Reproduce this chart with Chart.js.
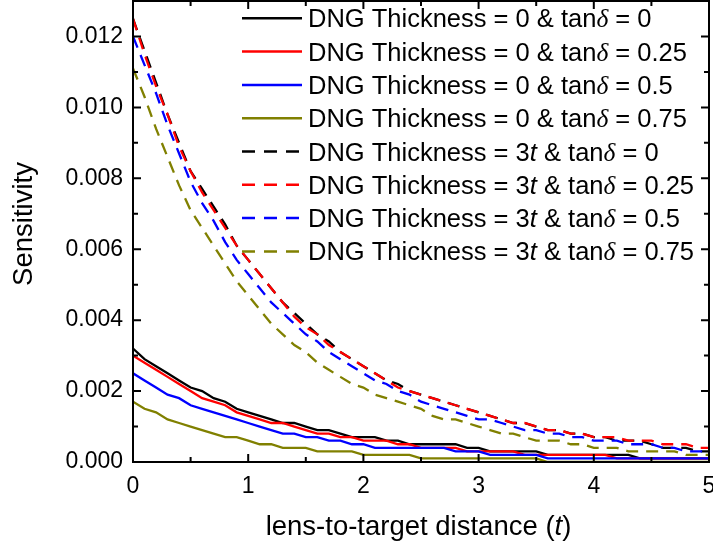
<!DOCTYPE html>
<html>
<head>
<meta charset="utf-8">
<script src="https://cdn.jsdelivr.net/npm/chart.js@4.4.1/dist/chart.umd.min.js"></script>
<style>
html,body{margin:0;padding:0;background:#fff;}
#wrap{width:713px;height:550px;position:relative;}
</style>
</head>
<body>
<div id="wrap"><canvas id="c" width="713" height="550"></canvas></div>
<script>
// lens-to-target distance (t)
const distance = [0.0,0.1,0.2,0.3,0.4,0.5,0.6,0.7,0.8,0.9,
  1.0,1.1,1.2,1.3,1.4,1.5,1.6,1.7,1.8,1.9,
  2.0,2.1,2.2,2.3,2.4,2.5,2.6,2.7,2.8,2.9,
  3.0,3.1,3.2,3.3,3.4,3.5,3.6,3.7,3.8,3.9,
  4.0,4.1,4.2,4.3,4.4,4.5,4.6,4.7,4.8,4.9,5.0];

// DNG thickness = 0
const thick0_tan0 = [0.0032,0.0029,0.0027,0.0025,0.0023,0.0021,0.0020,0.0018,0.0017,0.0015,
  0.0014,0.0013,0.0012,0.0011,0.0011,0.0010,0.0009,0.0009,0.0008,0.0007,
  0.0007,0.0007,0.0006,0.0006,0.0005,0.0005,0.0005,0.0005,0.0005,0.0004,
  0.0004,0.0003,0.0003,0.0003,0.0003,0.0003,0.0002,0.0002,0.0002,0.0002,
  0.0002,0.0002,0.0002,0.0002,0.0001,0.0001,0.0001,0.0001,0.0001,0.0001,0.0001];
const thick0_tan025 = [0.0030,0.0028,0.0026,0.0024,0.0022,0.0020,0.0018,0.0017,0.0016,0.0014,
  0.0013,0.0012,0.0011,0.0011,0.0010,0.0009,0.0008,0.0008,0.0007,0.0007,
  0.0006,0.0006,0.0006,0.0005,0.0005,0.0004,0.0004,0.0004,0.0004,0.0003,
  0.0003,0.0003,0.0003,0.0003,0.0002,0.0002,0.0002,0.0002,0.0002,0.0002,
  0.0002,0.0002,0.0001,0.0001,0.0001,0.0001,0.0001,0.0001,0.0001,0.0001,0.0001];
const thick0_tan05 = [0.0025,0.0023,0.0021,0.0019,0.0018,0.0016,0.0015,0.0014,0.0013,0.0012,
  0.0011,0.0010,0.0009,0.0008,0.0008,0.0007,0.0007,0.0006,0.0006,0.0005,
  0.0005,0.0004,0.0004,0.0004,0.0004,0.0004,0.0004,0.0004,0.0003,0.0003,
  0.0003,0.0002,0.0002,0.0002,0.0002,0.0002,0.0001,0.0001,0.0001,0.0001,
  0.0001,0.0001,0.0001,0.0001,0.0001,0.0001,0.0001,0.0001,0.0001,0.0001,0.0001];
const thick0_tan075 = [0.0017,0.0015,0.0014,0.0012,0.0011,0.0010,0.0009,0.0008,0.0007,0.0007,
  0.0006,0.0005,0.0005,0.0004,0.0004,0.0004,0.0003,0.0003,0.0003,0.0003,
  0.0002,0.0002,0.0002,0.0002,0.0002,0.0001,0.0001,0.0001,0.0001,0.0001,
  0.0001,0.0001,0.0001,0.0001,0.0001,0.0001,0.0000,0.0000,0.0000,0.0000,
  0.0000,0.0000,0.0000,0.0000,0.0000,0.0000,0.0000,0.0000,0.0000,0.0000,0.0000];

// DNG thickness = 3t
const thick3_tan0 = [0.0125,0.0116,0.0107,0.0098,0.0090,0.0082,0.0077,0.0072,0.0067,0.0061,
  0.0057,0.0053,0.0049,0.0045,0.0042,0.0039,0.0036,0.0034,0.0031,0.0029,
  0.0027,0.0025,0.0023,0.0022,0.0020,0.0019,0.0018,0.0017,0.0016,0.0015,
  0.0014,0.0013,0.0012,0.0011,0.0011,0.0010,0.0009,0.0009,0.0008,0.0008,
  0.0007,0.0007,0.0006,0.0006,0.0006,0.0005,0.0004,0.0004,0.0004,0.0003,0.0003];
const thick3_tan025 = [0.0125,0.0115,0.0106,0.0098,0.0089,0.0082,0.0076,0.0071,0.0066,0.0061,
  0.0057,0.0053,0.0049,0.0045,0.0041,0.0038,0.0036,0.0033,0.0031,0.0029,
  0.0027,0.0025,0.0023,0.0021,0.0020,0.0019,0.0018,0.0017,0.0016,0.0015,
  0.0014,0.0013,0.0012,0.0011,0.0011,0.0010,0.0009,0.0009,0.0008,0.0008,
  0.0007,0.0007,0.0007,0.0006,0.0006,0.0006,0.0005,0.0005,0.0005,0.0004,0.0004];
const thick3_tan05 = [0.0120,0.0112,0.0104,0.0095,0.0087,0.0079,0.0073,0.0068,0.0062,0.0057,
  0.0053,0.0049,0.0045,0.0042,0.0039,0.0036,0.0034,0.0031,0.0029,0.0027,
  0.0025,0.0023,0.0022,0.0020,0.0019,0.0017,0.0016,0.0015,0.0014,0.0013,
  0.0012,0.0012,0.0011,0.0010,0.0009,0.0009,0.0008,0.0008,0.0007,0.0007,
  0.0006,0.0006,0.0006,0.0005,0.0005,0.0005,0.0004,0.0004,0.0003,0.0003,0.0003];
const thick3_tan075 = [0.0111,0.0103,0.0094,0.0086,0.0078,0.0071,0.0066,0.0061,0.0056,0.0051,
  0.0047,0.0043,0.0039,0.0036,0.0033,0.0031,0.0028,0.0026,0.0024,0.0022,
  0.0021,0.0019,0.0018,0.0017,0.0016,0.0015,0.0013,0.0012,0.0012,0.0011,
  0.0010,0.0009,0.0008,0.0008,0.0007,0.0006,0.0006,0.0006,0.0005,0.0005,
  0.0004,0.0004,0.0004,0.0003,0.0003,0.0003,0.0003,0.0003,0.0002,0.0002,0.0002];

const seriesNames = [
  "DNG Thickness = 0 & tanδ = 0",
  "DNG Thickness = 0 & tanδ = 0.25",
  "DNG Thickness = 0 & tanδ = 0.5",
  "DNG Thickness = 0 & tanδ = 0.75",
  "DNG Thickness = 3t & tanδ = 0",
  "DNG Thickness = 3t & tanδ = 0.25",
  "DNG Thickness = 3t & tanδ = 0.5",
  "DNG Thickness = 3t & tanδ = 0.75"
];
const seriesValues = [thick0_tan0, thick0_tan025, thick0_tan05, thick0_tan075,
  thick3_tan0, thick3_tan025, thick3_tan05, thick3_tan075];
const seriesColors = ["#000000","#ff0000","#0000ff","#808000","#000000","#ff0000","#0000ff","#808000"];
const seriesDashed = [false,false,false,false,true,true,true,true];

const xTitle = "lens-to-target distance (t)";
const yTitle = "Sensitivity";
const FONT = "Arial, 'Liberation Sans', sans-serif";
const DASH = [12, 8];

function italicIdx(str){
  const set = new Set();
  const re = /δ|(?<=3)t|(?<=\()t(?=\))/g;
  let m;
  while ((m = re.exec(str)) !== null) set.add(m.index);
  return set;
}
function richRuns(str){
  const it = italicIdx(str);
  const runs = [];
  for (let i = 0; i < str.length; i++) {
    const isIt = it.has(i);
    const greek = str[i] === 'δ';
    const key = (isIt ? 'i' : 'n') + (greek ? 'g' : '');
    if (runs.length && runs[runs.length-1].key === key) runs[runs.length-1].t += str[i];
    else runs.push({key, t: str[i], italic: isIt, greek});
  }
  return runs;
}
function runFont(r, size){
  if (r.greek) return "italic " + size + "px 'Liberation Serif', 'DejaVu Serif', serif";
  return (r.italic ? "italic " : "") + size + "px " + FONT;
}
function richWidth(ctx, str, size){
  let w = 0;
  for (const r of richRuns(str)) { ctx.font = runFont(r, size); w += ctx.measureText(r.t).width; }
  return w;
}
function drawRich(ctx, str, x, y, size){
  let cx = x;
  for (const r of richRuns(str)) {
    ctx.font = runFont(r, size);
    ctx.fillText(r.t, cx, y);
    cx += ctx.measureText(r.t).width;
  }
}

const decor = {
  id: 'decor',
  afterDraw(chart){
    const ctx = chart.ctx;
    const {left, right, top, bottom} = chart.chartArea;
    const xs = chart.scales.x, ys = chart.scales.y;
    ctx.save();
    ctx.strokeStyle = '#000';
    ctx.lineWidth = 2;
    ctx.setLineDash([]);
    ctx.strokeRect(left, top, right - left, bottom - top);
    for (let k = 0; k <= 10; k++) {
      const px = xs.getPixelForValue(k * 0.5);
      const len = (k % 2 === 0) ? 8 : 5;
      ctx.beginPath();
      ctx.moveTo(px, bottom); ctx.lineTo(px, bottom - len);
      ctx.moveTo(px, top); ctx.lineTo(px, top + len);
      ctx.stroke();
    }
    for (let k = 0; k <= 13; k++) {
      const py = ys.getPixelForValue(k * 0.001);
      const len = (k % 2 === 0) ? 8 : 5;
      ctx.beginPath();
      ctx.moveTo(left, py); ctx.lineTo(left + len, py);
      ctx.moveTo(right, py); ctx.lineTo(right - len, py);
      ctx.stroke();
    }
    ctx.fillStyle = '#000';
    ctx.textBaseline = 'alphabetic';
    ctx.textAlign = 'left';
    for (let i = 0; i < seriesNames.length; i++) {
      const ry = 18.3 + i * 33.3;
      ctx.strokeStyle = seriesColors[i];
      ctx.lineWidth = 2.5;
      ctx.setLineDash(seriesDashed[i] ? [13, 9] : []);
      ctx.beginPath();
      ctx.moveTo(242, ry); ctx.lineTo(302, ry);
      ctx.stroke();
      ctx.setLineDash([]);
      ctx.fillStyle = '#000';
      drawRich(ctx, seriesNames[i], 308, ry + 9, 25.5);
    }
    const xw = richWidth(ctx, xTitle, 27.5);
    drawRich(ctx, xTitle, 418.5 - xw / 2, 535, 27.5);
    ctx.save();
    ctx.translate(32, 224);
    ctx.rotate(-Math.PI / 2);
    ctx.font = "27.5px " + FONT;
    ctx.textAlign = 'center';
    ctx.fillText(yTitle, 0, 0);
    ctx.restore();
    ctx.restore();
  }
};

const datasets = seriesValues.map((vals, i) => ({
  label: seriesNames[i],
  data: distance.map((d, j) => ({x: d, y: vals[j]})),
  borderColor: seriesColors[i],
  backgroundColor: seriesColors[i],
  borderWidth: 2.3,
  borderDash: seriesDashed[i] ? DASH : [],
  pointRadius: 0,
  tension: 0,
  fill: false,
  order: seriesNames.length - i
}));

new Chart(document.getElementById('c'), {
  type: 'line',
  data: { datasets },
  options: {
    responsive: false,
    animation: false,
    devicePixelRatio: 1,
    layout: { padding: { top: 1, right: 4, left: 0, bottom: 0 } },
    plugins: { legend: { display: false }, tooltip: { enabled: false } },
    scales: {
      x: {
        type: 'linear', min: 0, max: 5,
        grid: { display: false, drawTicks: false },
        border: { display: false },
        ticks: { stepSize: 1, padding: 11, color: '#000', font: { family: FONT, size: 23 }, maxRotation: 0, autoSkip: false },
        afterFit(s){ s.height = 88; s.paddingLeft = 0; s.paddingRight = 0; }
      },
      y: {
        type: 'linear', min: 0, max: 0.013,
        grid: { display: false, drawTicks: false },
        border: { display: false },
        ticks: { stepSize: 0.002, includeBounds: false, padding: 10, color: '#000', font: { family: FONT, size: 23 },
          callback: v => Number(v).toFixed(3) },
        afterFit(s){ s.width = 133; s.paddingTop = 0; s.paddingBottom = 0; }
      }
    }
  },
  plugins: [decor]
});
</script>
</body>
</html>
